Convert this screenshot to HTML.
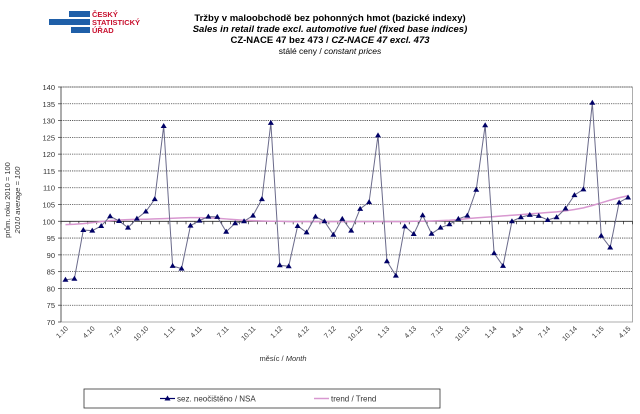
<!DOCTYPE html>
<html><head><meta charset="utf-8"><style>
body{margin:0;background:#fff;width:640px;height:409px;overflow:hidden;font-family:"Liberation Sans",sans-serif}
</style></head><body>
<svg id="c" width="640" height="409" xmlns="http://www.w3.org/2000/svg" font-family="Liberation Sans, sans-serif">
<g>
<rect x="69" y="11" width="21" height="6" fill="#1f5fa8"/>
<rect x="49" y="19" width="41" height="6" fill="#1f5fa8"/>
<rect x="71" y="27" width="19" height="6" fill="#1f5fa8"/>
<text x="92" y="17" font-size="7.5" font-weight="bold" fill="#c8102e">ČESKÝ</text>
<text x="92" y="25" font-size="7.5" font-weight="bold" fill="#c8102e">STATISTICKÝ</text>
<text x="92" y="33" font-size="7.5" font-weight="bold" fill="#c8102e">ÚŘAD</text>
</g>
<g text-anchor="middle" fill="#000">
<text x="330" y="21" font-size="9.5" font-weight="bold">Tržby v maloobchodě  bez pohonných  hmot (bazické  indexy)</text>
<text x="330" y="32" font-size="9.5" font-weight="bold" font-style="italic">Sales in retail trade excl. automotive fuel (fixed base indices)</text>
<text x="330" y="43" font-size="9.5" font-weight="bold">CZ-NACE 47 bez 473 / <tspan font-style="italic">CZ-NACE 47 excl. 473</tspan></text>
<text x="330" y="54" font-size="8.5">stálé ceny / <tspan font-style="italic">constant  prices</tspan></text>
</g>
<rect x="61" y="87" width="571.5" height="235" fill="none" stroke="#999" stroke-width="0.8"/>
<g id="grid"></g><g id="axes"></g><g id="series"></g>
<text transform="translate(10,200) rotate(-90)" text-anchor="middle" font-size="7.5" fill="#333">prům. roku 2010 = 100</text>
<text transform="translate(20,200) rotate(-90)" text-anchor="middle" font-size="7.5" font-style="italic" fill="#333">2010 average = 100</text>
<text x="283" y="361" text-anchor="middle" font-size="7.5" fill="#333">měsíc / <tspan font-style="italic">Month</tspan></text>
<g>
<rect x="84" y="389" width="356" height="19" fill="#fff" stroke="#333" stroke-width="0.8"/>
<line x1="160" y1="398.5" x2="175" y2="398.5" stroke="#000066" stroke-width="1.2"/>
<path d="M167.5,395.5 L170.5,400.5 L164.5,400.5Z" fill="#000066"/>
<text x="177" y="401.5" font-size="8" fill="#333">sez. neočištěno / NSA</text>
<line x1="314" y1="398.5" x2="329" y2="398.5" stroke="#d898d0" stroke-width="1.5"/>
<text x="331" y="401.5" font-size="8" fill="#333">trend / Trend</text>
</g>
</svg>
<script>
const months=["1.10","2.10","3.10","4.10","5.10","6.10","7.10","8.10","9.10","10.10","11.10","12.10","1.11","2.11","3.11","4.11","5.11","6.11","7.11","8.11","9.11","10.11","11.11","12.11","1.12","2.12","3.12","4.12","5.12","6.12","7.12","8.12","9.12","10.12","11.12","12.12","1.13","2.13","3.13","4.13","5.13","6.13","7.13","8.13","9.13","10.13","11.13","12.13","1.14","2.14","3.14","4.14","5.14","6.14","7.14","8.14","9.14","10.14","11.14","12.14","1.15","2.15","3.15","4.15"];
const nsa=[82.6,82.9,97.4,97.2,98.6,101.5,100.1,98.1,100.8,102.9,106.6,128.4,86.7,85.9,98.7,100.2,101.4,101.3,96.9,99.4,100.0,101.7,106.6,129.3,86.9,86.6,98.6,96.7,101.4,100.0,96.0,100.7,97.2,103.7,105.7,125.6,88.1,83.8,98.5,96.2,101.8,96.3,98.1,99.1,100.7,101.7,109.4,128.6,90.5,86.7,100.0,101.2,101.9,101.6,100.4,101.2,103.8,107.8,109.5,135.3,95.7,92.2,105.6,107.1];
const trend=[99.0,99.1,99.3,99.6,99.9,100.2,100.4,100.5,100.6,100.6,100.7,100.8,100.9,101.0,101.1,101.1,101.0,100.9,100.7,100.5,100.3,100.2,100.1,100.0,100.0,99.9,99.9,99.9,99.9,99.9,99.9,99.9,99.9,99.9,99.9,99.9,99.9,99.9,99.9,100.0,100.0,100.1,100.2,100.3,100.5,100.8,101.0,101.2,101.4,101.6,101.8,102.0,102.2,102.4,102.6,102.8,103.1,103.5,104.0,104.7,105.5,106.3,107.0,107.6];
const yTicks=[70,75,80,85,90,95,100,105,110,115,120,125,130,135,140];
const NS="http://www.w3.org/2000/svg";
const L=61,T=87,W=571.5,H=235,step=W/months.length;
const xs=i=>L+step*(i+0.5);
const ys=v=>T+(140-v)/70*H;
function mk(tag,attrs,parent){const e=document.createElementNS(NS,tag);for(const k in attrs)e.setAttribute(k,attrs[k]);parent.appendChild(e);return e;}
const grid=document.getElementById('grid'),axes=document.getElementById('axes'),ser=document.getElementById('series');
yTicks.forEach(v=>{
 if(v!==70&&v!==100){const g=mk('line',{x1:L,x2:L+W,y1:ys(v),y2:ys(v),stroke:'#444','stroke-width':0.8,'stroke-dasharray':'1.2,1'},grid);
 
 }
 const t=mk('text',{x:L-6,y:ys(v)+3,'text-anchor':'end','font-size':7.5,fill:'#333'},axes);t.textContent=v;
 
 
 mk('line',{x1:L-3,x2:L,y1:ys(v),y2:ys(v),stroke:'#444','stroke-width':0.8},axes);
});
mk('line',{x1:L,x2:L,y1:T,y2:T+H,stroke:'#444','stroke-width':0.8},axes);
const xa=mk('line',{x1:L,x2:L+W,y1:ys(100),y2:ys(100),stroke:'#222','stroke-width':0.9},axes);


for(let i=0;i<=months.length;i++){mk('line',{x1:L+step*i,x2:L+step*i,y1:ys(100),y2:ys(100)+3,stroke:'#222','stroke-width':0.7},axes);}
months.forEach((m,i)=>{if(i%3)return;const x=xs(i),y=T+H+7;
 const t=mk('text',{x:x+3,y:y,'text-anchor':'end','font-size':7,fill:'#333',transform:`rotate(-45 ${x+3} ${y})`},axes);t.textContent=m;
 
 });
const tl=mk('polyline',{points:trend.map((v,i)=>xs(i)+','+ys(v)).join(' '),fill:'none',stroke:'#d898d0','stroke-width':1.5},ser);


const nl=mk('polyline',{points:nsa.map((v,i)=>xs(i)+','+ys(v)).join(' '),fill:'none',stroke:'#6a6a8a','stroke-width':1},ser);


nsa.forEach((v,i)=>{const x=xs(i),y=ys(v);
 const p=mk('path',{d:`M${x},${y-3} L${x+3},${y+2} L${x-3},${y+2}Z`,fill:'#000066'},ser);
 
 });
</script>
</body></html>
